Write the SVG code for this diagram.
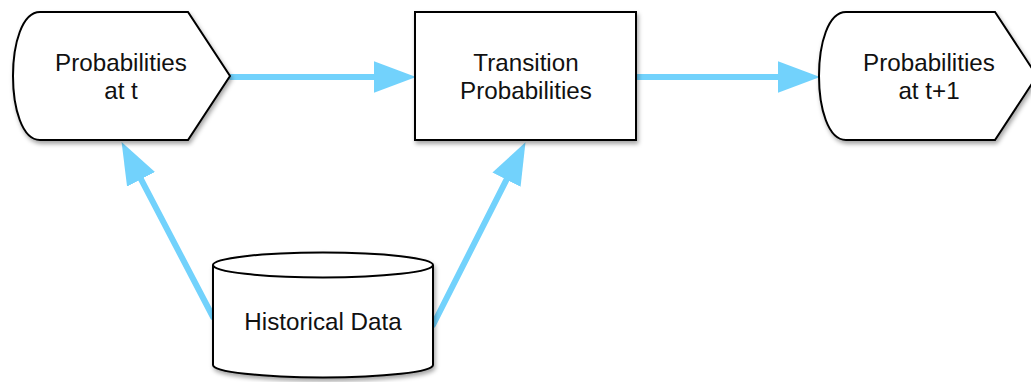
<svg xmlns="http://www.w3.org/2000/svg" width="1031" height="382" viewBox="0 0 1031 382">
<defs>
<style>
.node{fill:#fff;stroke:#000;stroke-width:2;filter:url(#sh)}
.lbl{font-family:"Liberation Sans",Arial,sans-serif;font-size:24.2px;fill:#111;text-anchor:middle}
.conn{stroke:#72D2FC;stroke-width:6;fill:none;stroke-linecap:round;marker-end:url(#ah)}
</style>
<filter id="sh" x="-10%" y="-10%" width="125%" height="130%">
<feDropShadow dx="1.5" dy="3" stdDeviation="2" flood-color="#000" flood-opacity="0.35"/>
</filter>
<marker id="ah" markerUnits="userSpaceOnUse" markerWidth="42" markerHeight="32" refX="20" refY="15" orient="auto" viewBox="0 0 40 30">
<path d="M0,0 L40,15 L0,30 Z" fill="#72D2FC"/>
</marker>
</defs>
<g id="connectors">
<line class="conn" x1="231" y1="77" x2="395" y2="77"/>
<line class="conn" x1="636" y1="77" x2="799" y2="77"/>
<line class="conn" x1="213" y1="317" x2="131.3" y2="160.7"/>
<line class="conn" x1="433" y1="325" x2="516" y2="160.9"/>
</g>
<g id="node-prob-t">
<path class="node" d="M40,12 L188,12 L230,76 L188,140 L40,140 C4,140 4,12 40,12 Z"/>
<text class="lbl" x="121" y="71">Probabilities</text>
<text class="lbl" x="121" y="99">at t</text>
</g>
<g id="node-transition">
<rect class="node" x="415" y="12" width="221" height="128"/>
<text class="lbl" x="526" y="71">Transition</text>
<text class="lbl" x="526" y="99">Probabilities</text>
</g>
<g id="node-prob-t1">
<path class="node" d="M846,12 L995,12 L1037,76 L995,140 L846,140 C810,140 810,12 846,12 Z"/>
<text class="lbl" x="929" y="71">Probabilities</text>
<text class="lbl" x="929" y="99">at t+1</text>
</g>
<g id="node-historical">
<path class="node" d="M213,265 A110,12.5 0 0 1 433,265 L433,365 A110,12.5 0 0 1 213,365 Z"/>
<path d="M213,265 A110,12.5 0 0 0 433,265" fill="none" stroke="#000" stroke-width="2"/>
<text class="lbl" x="323" y="330">Historical Data</text>
</g>
</svg>
